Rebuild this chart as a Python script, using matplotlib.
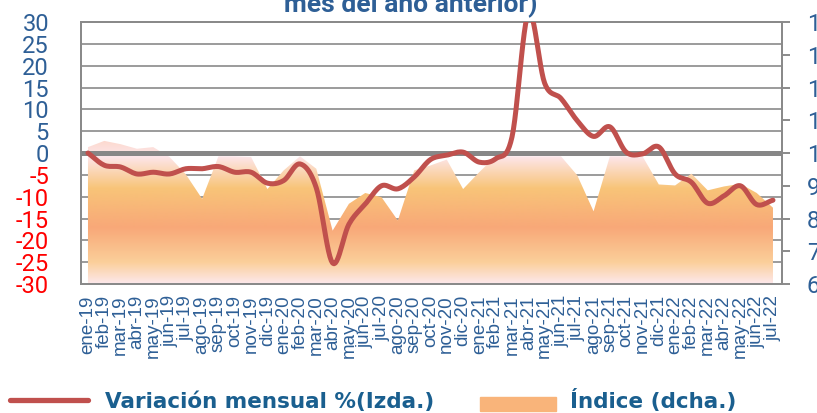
import numpy as np
import matplotlib
matplotlib.use('Agg')
import matplotlib.pyplot as plt
from matplotlib.colors import LinearSegmentedColormap
from matplotlib.lines import Line2D
from matplotlib.patches import Rectangle

# Datos
meses = ['ene-19', 'feb-19', 'mar-19', 'abr-19', 'may-19', 'jun-19', 'jul-19', 'ago-19',
         'sep-19', 'oct-19', 'nov-19', 'dic-19', 'ene-20', 'feb-20', 'mar-20', 'abr-20',
         'may-20', 'jun-20', 'jul-20', 'ago-20', 'sep-20', 'oct-20', 'nov-20', 'dic-20',
         'ene-21', 'feb-21', 'mar-21', 'abr-21', 'may-21', 'jun-21', 'jul-21', 'ago-21',
         'sep-21', 'oct-21', 'nov-21', 'dic-21', 'ene-22', 'feb-22', 'mar-22', 'abr-22',
         'may-22', 'jun-22', 'jul-22']

variacion = [0.0, -2.8, -3.2, -4.8, -4.4, -4.8, -3.6, -3.6, -3.1, -4.4, -4.4, -6.9,
             -6.3, -2.5, -8.0, -25.2, -16.3, -11.7, -7.5, -8.2, -5.5, -1.5, -0.5, 0.2,
             -2.1, -1.3, 3.7, 32.0, 16.0, 12.5, 7.4, 3.8, 6.0, 0.2, -0.2, 1.4,
             -4.8, -6.7, -11.5, -9.8, -7.5, -11.8, -10.8]

indice = [101.8, 103.7, 102.7, 101.3, 101.8, 98.8, 93.5, 86.0, 99.0, 99.0, 98.8, 89.0,
          94.7, 99.0, 95.2, 76.3, 84.5, 87.8, 86.5, 79.4, 94.7, 96.2, 98.0, 89.0,
          94.2, 99.0, 99.0, 99.0, 99.0, 99.0, 93.2, 82.2, 99.0, 99.0, 99.0, 90.4,
          90.1, 93.7, 88.6, 89.8, 90.6, 87.8, 83.3]

izq_ticks = list(range(-30, 31, 5))
der_ticks = list(range(60, 141, 10))


def suavizar(x, y, n=12):
    # Catmull-Rom para imitar la linea suavizada de Excel
    x = np.asarray(x, float)
    y = np.asarray(y, float)
    px = np.concatenate([[2 * x[0] - x[1]], x, [2 * x[-1] - x[-2]]])
    py = np.concatenate([[2 * y[0] - y[1]], y, [2 * y[-1] - y[-2]]])
    xs, ys = [], []
    t = np.linspace(0, 1, n, endpoint=False)
    for i in range(1, len(px) - 2):
        for p, out in ((px, xs), (py, ys)):
            p0, p1, p2, p3 = p[i - 1], p[i], p[i + 1], p[i + 2]
            out.extend(0.5 * (2 * p1 + (-p0 + p2) * t + (2 * p0 - 5 * p1 + 4 * p2 - p3) * t ** 2
                              + (-p0 + 3 * p1 - 3 * p2 + p3) * t ** 3))
    xs.append(x[-1])
    ys.append(y[-1])
    return np.array(xs), np.array(ys)


azul = '#2e5f96'
gris = '#8a8a8a'

fig = plt.figure(figsize=(8.17, 4.13), dpi=100)
ax = fig.add_axes([0.0991, 0.3123, 0.8580, 0.6344])
ax2 = ax.twinx()
ax.set_zorder(2)
ax2.set_zorder(1)
ax.patch.set_visible(False)
ax2.patch.set_facecolor('#f2f2f2')

x = np.arange(len(meses))
xmin, xmax = -0.43, 42.55

# lineas de cuadricula (debajo del area)
for v in izq_ticks:
    if v != 0:
        ax2.plot([0, 1], [v, v], transform=ax.get_yaxis_transform(), color=gris,
                 lw=1.2, zorder=1)

# area del indice con degradado
poly = ax2.fill_between(x, 60, indice, facecolor='none', edgecolor='none', zorder=2)
cmap = LinearSegmentedColormap.from_list('grad', [
    (0.0, '#fde8ec'), (0.15, '#fbcf9a'), (0.39, '#f8a878'), (0.66, '#f8c478'),
    (0.88, '#fde6ea'), (1.0, '#fcd8cc')])
grad = np.linspace(0, 1, 256).reshape(-1, 1)
img = ax2.imshow(grad, extent=[xmin, xmax, 60, 104], aspect='auto', origin='lower',
                 cmap=cmap, zorder=2, interpolation='bilinear')
img.set_clip_path(poly.get_paths()[0], transform=ax2.transData)

# linea cero y variacion mensual
ax.axhline(0, color='#878787', lw=3.6, zorder=3)
sx, sy = suavizar(x, variacion)
ax.plot(sx, sy, color='#c0504d', lw=3.6, zorder=4, solid_capstyle='round')

ax.set_xlim(xmin, xmax)
ax.set_ylim(-30, 30)
ax2.set_ylim(60, 140)
ax2.set_xlim(xmin, xmax)

for a in (ax, ax2):
    for s in a.spines.values():
        s.set_color(gris)
        s.set_linewidth(1.4)

ax.set_yticks(izq_ticks)
ax.set_yticklabels([str(v) for v in izq_ticks], fontfamily='Roboto', fontsize=17)
for lab, v in zip(ax.get_yticklabels(), izq_ticks):
    lab.set_color(azul if v >= 0 else '#ff0000')
ax.tick_params(axis='y', length=0, pad=23)

ax2.set_yticks(der_ticks)
ax2.set_yticklabels([str(v) for v in der_ticks], fontfamily='Roboto', fontsize=17, color=azul)
ax2.tick_params(axis='y', length=6, width=1.4, color=gris, pad=12)

ax.set_xticks(x)
ax.set_xticklabels(meses, rotation=90, fontfamily='Liberation Sans', fontsize=13.5,
                   color=azul, va='top', ha='center')
ax.tick_params(axis='x', length=0, pad=8)

# titulo (segunda linea visible)
fig.text(0.503, 0.971, 'mes del año anterior)', ha='center', va='baseline',
         fontfamily='Roboto', fontweight='bold', fontsize=19, color=azul)

# leyenda
fig.add_artist(Line2D([0.012, 0.108], [0.031, 0.031], color='#c0504d', lw=3.8,
                      solid_capstyle='round', transform=fig.transFigure))
fig.text(0.128, 0.013, 'Variación mensual %(Izda.)', fontfamily='DejaVu Sans',
         fontweight='bold', fontsize=15.5, color='#1a5f8f', va='baseline')
fig.add_artist(Rectangle((0.588, 0.005), 0.092, 0.033, color='#f9b47a',
                         transform=fig.transFigure))
fig.text(0.698, 0.013, 'Índice (dcha.)', fontfamily='DejaVu Sans',
         fontweight='bold', fontsize=15.5, color='#1a5f8f', va='baseline')

fig.savefig('out.png', dpi=100)
